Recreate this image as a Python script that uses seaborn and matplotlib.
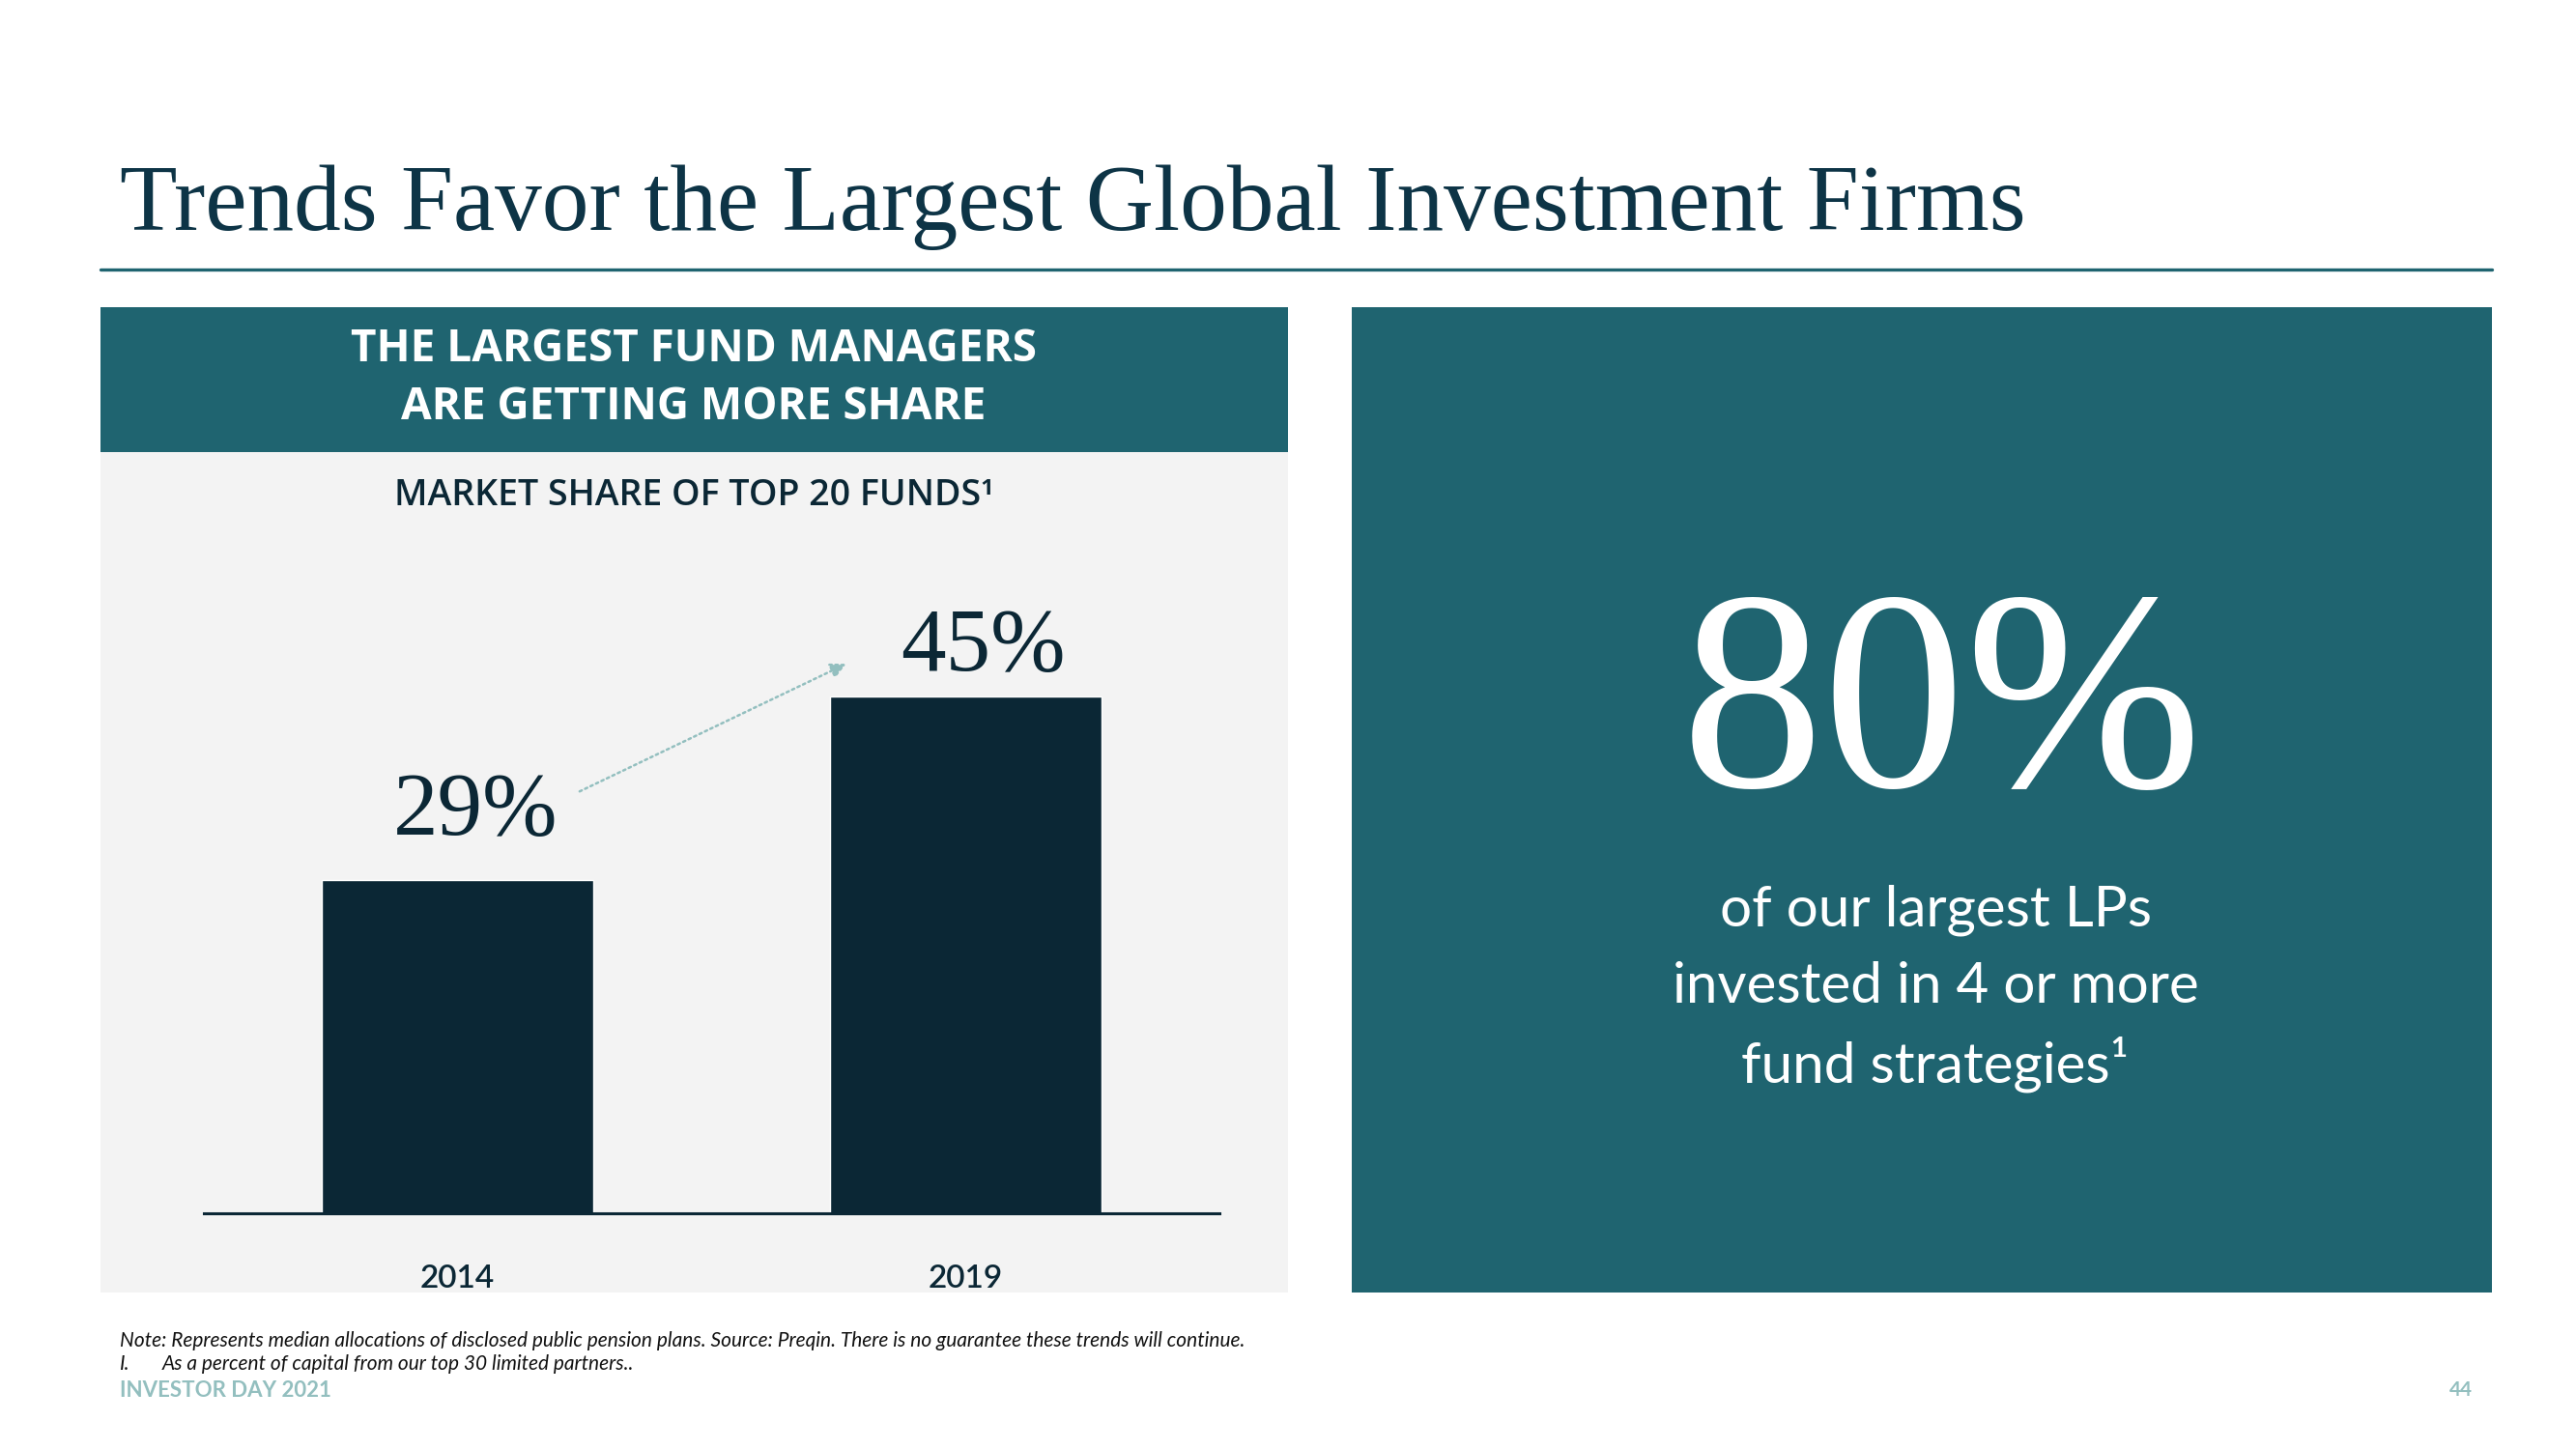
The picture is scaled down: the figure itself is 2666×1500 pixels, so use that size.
import matplotlib
matplotlib.use("Agg")
import matplotlib.pyplot as plt
from matplotlib.patches import Rectangle
from matplotlib.lines import Line2D
import seaborn as sns
import pandas as pd

# ---- data ----
years = ["2014", "2019"]
shares = [29, 45]
share_labels = ["29%", "45%"]
big_stat = "80%"
stat_lines = ["of our largest LPs", "invested in 4 or more", "fund strategies¹"]
title = "Trends Favor the Largest Global Investment Firms"
header_lines = ["THE LARGEST FUND MANAGERS", "ARE GETTING MORE SHARE"]
subtitle = "MARKET SHARE OF TOP 20 FUNDS¹"
note1 = "Note: Represents median allocations of disclosed public pension plans. Source: Preqin. There is no guarantee these trends will continue."
note2 = "As a percent of capital from our top 30 limited partners.."
footer = "INVESTOR DAY 2021"
page = "44"

TEAL = "#1f6470"
NAVY = "#0b2735"
TITLE_C = "#0d3446"
GRAY = "#f3f3f3"
LIGHT = "#93bfbf"

sns.set_theme(style="white")
plt.rcParams['font.family'] = ['Lato', 'DejaVu Sans']

W, H = 2666, 1500
fig = plt.figure(figsize=(W / 100, H / 100), dpi=100)
fig.patch.set_facecolor("white")

def fx(x):
    return x / W

def fy(y):
    return 1 - y / H

def rect(x0, y0, x1, y1, color):
    fig.patches.append(Rectangle((fx(x0), fy(y1)), fx(x1) - fx(x0), fy(y0) - fy(y1),
                                 transform=fig.transFigure, facecolor=color,
                                 edgecolor="none", zorder=-1))

# title and rule
fig.text(fx(124), fy(238), title, family="Liberation Serif", fontsize=70,
         color=TITLE_C, ha="left", va="baseline")
fig.add_artist(Line2D([fx(104), fx(2579)], [fy(279), fy(279)], color=TEAL,
                      lw=2.4, transform=fig.transFigure))

# panels
rect(104, 318, 1333, 468, TEAL)
rect(104, 468, 1333, 1338, GRAY)
rect(1399, 318, 2579, 1338, TEAL)

# header text
hdr_font = ['Open Sans', 'DejaVu Sans']
fig.text(fx(718), fy(362), header_lines[0], family=hdr_font, fontsize=33, weight="bold",
         color="white", ha="center", va="center")
fig.text(fx(718), fy(421), header_lines[1], family=hdr_font, fontsize=33, weight="bold",
         color="white", ha="center", va="center")
fig.text(fx(718), fy(513), subtitle, family=hdr_font, fontsize=27, weight="semibold",
         color=NAVY, ha="center", va="center")

# bar chart
ax = fig.add_axes([fx(211), fy(1256), fx(1262) - fx(211), fy(661) - fy(1256)])
ax.set_zorder(1)
ax.patch.set_alpha(0)
df = pd.DataFrame({"year": years, "share": shares})
sns.barplot(data=df, x="year", y="share", color=NAVY, saturation=1,
            width=0.535, ax=ax)
ax.set_xlim(-0.5, 1.5)
ax.set_ylim(0, 50)
for s in ["top", "left", "right"]:
    ax.spines[s].set_visible(False)
ax.spines["bottom"].set_color(NAVY)
ax.spines["bottom"].set_linewidth(2.2)
ax.set_yticks([])
ax.set_xlabel("")
ax.set_ylabel("")
ax.tick_params(axis="x", length=0, pad=38, labelsize=24, labelcolor=NAVY)
for lab in ax.get_xticklabels():
    lab.set_fontweight("semibold")

label_off = [3.9, 2.2]
for i, (v, t) in enumerate(zip(shares, share_labels)):
    ax.text(i + 0.035, v + label_off[i], t, family="Liberation Serif",
            fontsize=67, color=NAVY, ha="center", va="baseline")

ax.annotate("", xy=(0.765, 47.8), xytext=(0.24, 36.7),
            arrowprops=dict(arrowstyle="-|>,head_length=0.8,head_width=0.4",
                            linestyle=(0, (1, 1.5)), color=LIGHT, lw=1.8,
                            shrinkA=0, shrinkB=0))

# right panel stat
fig.text(fx(2010), fy(814), big_stat, family="Liberation Serif", fontsize=212,
         color="white", ha="center", va="baseline")
for i, line in enumerate(stat_lines):
    fig.text(fx(2003), fy(942 + 80 * i), line, fontsize=42, color="white",
             ha="center", va="center")

# notes and footer
fig.text(fx(124), fy(1388), note1, fontsize=15, style="italic", color="#111111",
         ha="left", va="center")
fig.text(fx(124), fy(1412), "I.", fontsize=15, style="italic", color="#111111",
         ha="left", va="center")
fig.text(fx(168), fy(1412), note2, fontsize=15, style="italic", color="#111111",
         ha="left", va="center")
fig.text(fx(124), fy(1439), footer, fontsize=16, weight="bold", color=LIGHT,
         ha="left", va="center")
fig.text(fx(2559), fy(1439), page, fontsize=15, weight="bold", color=LIGHT,
         ha="right", va="center")

fig.savefig("out.png", dpi=100)
